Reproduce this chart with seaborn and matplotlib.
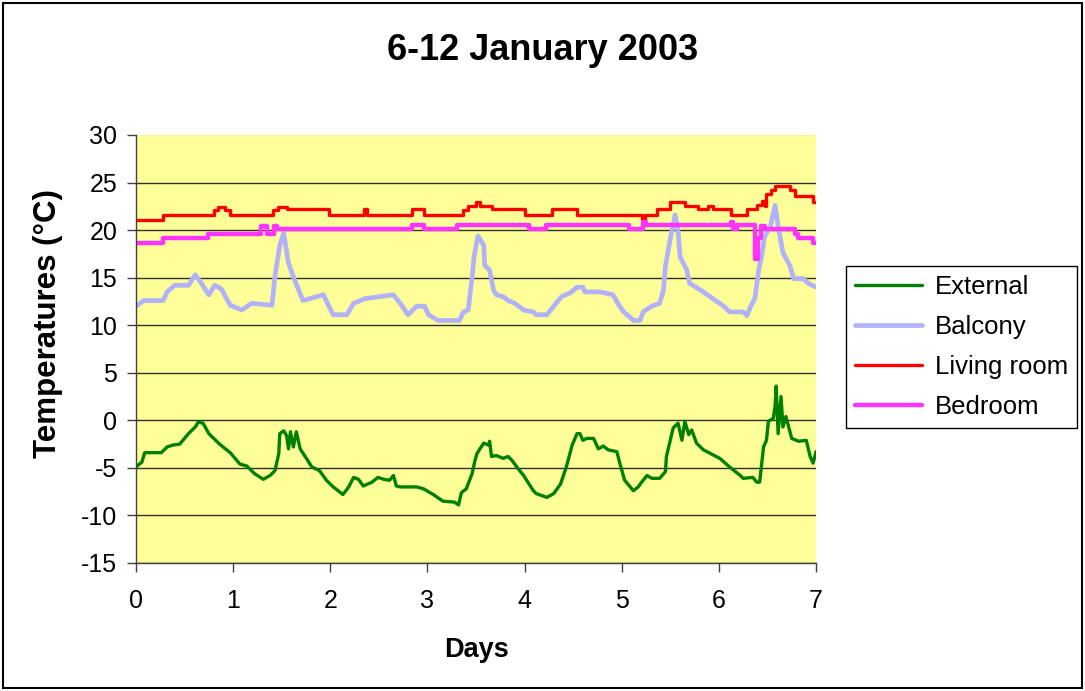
import matplotlib
matplotlib.use("Agg")
import matplotlib.pyplot as plt
import seaborn as sns
from matplotlib.patches import Rectangle

# readings: days since 6 Jan 2003, temperatures in degC
ext_days = [0, 0.06, 0.09, 0.26, 0.32, 0.38, 0.45, 0.54, 0.61, 0.64, 0.69, 0.75, 0.86, 0.97,
            1.07, 1.14, 1.22, 1.31, 1.38, 1.43, 1.47, 1.48, 1.52, 1.55, 1.57, 1.59, 1.62, 1.65,
            1.69, 1.76, 1.81, 1.89, 1.96, 2.03, 2.13, 2.19, 2.24, 2.29, 2.34, 2.43, 2.49, 2.55,
            2.61, 2.65, 2.68, 2.72, 2.89, 2.96, 3.06, 3.16, 3.28, 3.32, 3.35, 3.40, 3.46, 3.49,
            3.51, 3.54, 3.58, 3.63, 3.64, 3.66, 3.71, 3.78, 3.83, 3.87, 3.92, 3.99, 4.09, 4.12,
            4.23, 4.30, 4.37, 4.43, 4.49, 4.54, 4.57, 4.60, 4.64, 4.71, 4.76, 4.81, 4.86, 4.95,
            4.98, 5.03, 5.12, 5.17, 5.19, 5.26, 5.31, 5.39, 5.45, 5.46, 5.53, 5.58, 5.62, 5.65,
            5.69, 5.72, 5.77, 5.84, 6.01, 6.11, 6.22, 6.25, 6.35, 6.39, 6.42, 6.46, 6.49, 6.51,
            6.56, 6.58, 6.59, 6.61, 6.64, 6.66, 6.69, 6.75, 6.82, 6.90, 6.94, 6.97, 7.0]
ext_temp = [-4.9, -4.4, -3.4, -3.4, -2.8, -2.6, -2.5, -1.4, -0.7, -0.2, -0.3, -1.4, -2.5, -3.4,
            -4.6, -4.8, -5.6, -6.2, -5.8, -5.3, -3.5, -1.4, -1.1, -1.6, -3.0, -1.2, -2.8, -1.2,
            -3.0, -4.1, -4.9, -5.3, -6.3, -7.0, -7.8, -7.0, -6.0, -6.2, -6.9, -6.5, -6.0, -6.2,
            -6.3, -5.8, -6.9, -7.0, -7.0, -7.2, -7.8, -8.5, -8.6, -8.9, -7.6, -7.2, -5.6, -4.2,
            -3.5, -3.0, -2.4, -2.6, -2.2, -3.8, -3.7, -4.0, -3.8, -4.2, -4.9, -5.8, -7.4, -7.7,
            -8.1, -7.7, -6.7, -4.9, -2.6, -1.4, -1.4, -2.1, -1.9, -1.9, -3.0, -2.7, -3.1, -3.3,
            -4.5, -6.3, -7.4, -7.0, -6.7, -5.8, -6.1, -6.1, -5.4, -3.8, -0.8, -0.3, -2.1, -0.1,
            -1.5, -1.0, -2.4, -3.1, -4.0, -4.9, -5.8, -6.1, -6.0, -6.5, -6.5, -2.8, -2.1, -0.1,
            0.2, 1.6, 3.6, -1.4, 2.5, -0.7, 0.4, -1.9, -2.2, -2.1, -3.8, -4.5, -3.3]

bal_days = [0, 0.08, 0.28, 0.32, 0.40, 0.54, 0.61, 0.66, 0.75, 0.81, 0.88, 0.97, 1.09, 1.19,
            1.40, 1.43, 1.48, 1.52, 1.57, 1.62, 1.69, 1.72, 1.93, 1.98, 2.03, 2.17, 2.24, 2.36,
            2.65, 2.72, 2.80, 2.89, 2.97, 3.01, 3.11, 3.33, 3.37, 3.42, 3.46, 3.48, 3.52, 3.58,
            3.59, 3.64, 3.68, 3.71, 3.78, 3.83, 3.90, 3.99, 4.09, 4.12, 4.23, 4.30, 4.38, 4.47,
            4.54, 4.60, 4.62, 4.78, 4.91, 4.96, 5.02, 5.08, 5.12, 5.19, 5.22, 5.31, 5.39, 5.43,
            5.45, 5.50, 5.55, 5.58, 5.60, 5.67, 5.70, 5.81, 5.91, 6.05, 6.11, 6.25, 6.29, 6.32,
            6.37, 6.41, 6.44, 6.47, 6.53, 6.58, 6.61, 6.66, 6.73, 6.77, 6.87, 6.92, 7.0]
bal_temp = [12.0, 12.6, 12.6, 13.5, 14.2, 14.2, 15.3, 14.6, 13.2, 14.2, 13.8, 12.1, 11.6, 12.3,
            12.1, 15.1, 18.4, 19.7, 16.5, 15.1, 13.3, 12.6, 13.2, 12.1, 11.1, 11.1, 12.3, 12.8,
            13.2, 12.3, 11.1, 12.0, 12.0, 11.1, 10.5, 10.5, 11.4, 11.6, 15.1, 17.2, 19.4, 18.4,
            16.3, 15.8, 13.7, 13.2, 13.0, 12.6, 12.3, 11.6, 11.4, 11.1, 11.1, 12.0, 13.0, 13.4,
            14.0, 14.0, 13.5, 13.5, 13.2, 12.3, 11.4, 10.9, 10.5, 10.5, 11.4, 12.0, 12.3, 13.7,
            16.2, 19.1, 21.6, 20.0, 17.2, 15.8, 14.4, 13.7, 13.0, 12.0, 11.4, 11.4, 11.0, 11.8,
            12.8, 15.8, 17.2, 19.3, 20.4, 22.6, 20.4, 17.6, 16.3, 14.9, 14.9, 14.4, 14.0]

# indoor sensors report in steps: each value holds until the next day listed
liv_days = [0, 0.28, 0.80, 0.84, 0.92, 0.97, 1.41, 1.46, 1.55, 1.99, 2.35, 2.38, 2.84, 2.96,
            3.37, 3.42, 3.50, 3.54, 3.66, 4.00, 4.28, 4.54, 5.21, 5.24, 5.36, 5.50, 5.65, 5.79,
            5.89, 5.94, 6.13, 6.29, 6.39, 6.44, 6.47, 6.49, 6.54, 6.58, 6.73, 6.78, 6.97, 7.0]
liv_temp = [21.1, 21.6, 22.1, 22.45, 22.1, 21.6, 22.1, 22.45, 22.2, 21.6, 22.2, 21.6, 22.2, 21.6,
            22.1, 22.5, 23.0, 22.5, 22.2, 21.6, 22.2, 21.6, 21.2, 21.6, 22.2, 23.0, 22.5, 22.2,
            22.5, 22.2, 21.6, 22.2, 22.6, 23.1, 22.5, 23.8, 24.2, 24.6, 24.2, 23.6, 23.0, 23.0]

bed_days = [0, 0.28, 0.74, 1.29, 1.35, 1.42, 1.45, 2.84, 2.96, 3.30, 4.05, 4.22, 5.07, 5.22,
            5.25, 6.13, 6.15, 6.19, 6.37, 6.40, 6.43, 6.47, 6.78, 6.81, 6.97, 7.0]
bed_temp = [18.6, 19.2, 19.6, 20.4, 19.6, 20.4, 20.1, 20.5, 20.1, 20.5, 20.1, 20.5, 20.1, 20.9,
            20.5, 20.9, 20.1, 20.5, 17.0, 19.2, 20.4, 20.1, 19.6, 19.2, 18.6, 18.6]

x_ticks = [0, 1, 2, 3, 4, 5, 6, 7]
y_ticks = [-15, -10, -5, 0, 5, 10, 15, 20, 25, 30]

sns.set_theme(style="white")
plt.rcParams["font.family"] = ["Liberation Sans", "DejaVu Sans"]
plt.rcParams["axes.unicode_minus"] = False
plt.rcParams["text.color"] = "black"
plt.rcParams["axes.labelcolor"] = "black"

W, H = 1085, 691
fig = plt.figure(figsize=(W / 100, H / 100), dpi=100)
ax = fig.add_axes([136 / W, 1 - 563 / H, 680 / W, 428 / H])
ax.set_facecolor("#FFFF99")

sns.lineplot(x=ext_days, y=ext_temp, color="#008000", lw=2.4, label="External",
             estimator=None, sort=False, ax=ax)
sns.lineplot(x=bal_days, y=bal_temp, color="#B2B2FA", lw=3.4, label="Balcony",
             estimator=None, sort=False, ax=ax)
sns.lineplot(x=liv_days, y=liv_temp, color="#FF0000", lw=2.4, label="Living room",
             estimator=None, sort=False, drawstyle="steps-post", ax=ax)
sns.lineplot(x=bed_days, y=bed_temp, color="#FF33FF", lw=3.2, label="Bedroom",
             estimator=None, sort=False, drawstyle="steps-post", ax=ax)

handles, labels = ax.get_legend_handles_labels()
ax.get_legend().remove()

ax.set_xlim(0, 7)
ax.set_ylim(-15, 30)
ax.set_xticks(x_ticks)
ax.set_yticks(y_ticks)
ax.grid(axis="y", color="#303030", lw=1)
ax.get_ygridlines()[-1].set_color("#F2F2A0")
ax.set_axisbelow(True)

for side in ["top", "right"]:
    ax.spines[side].set_visible(False)
for side in ["left", "bottom"]:
    ax.spines[side].set_color("#404040")
    ax.spines[side].set_linewidth(1)

ax.tick_params(axis="both", direction="out", length=6.5, width=1, color="#404040",
               labelsize=18, labelcolor="black", left=True, bottom=True)
ax.tick_params(axis="y", pad=7)
ax.tick_params(axis="x", pad=12)

ax.set_xlabel("Days", fontsize=19.5, fontweight="bold")
ax.set_ylabel("Temperatures (°C)", fontsize=22.5, fontweight="bold")
ax.xaxis.set_label_coords(0.5, -0.172)
ax.yaxis.set_label_coords(-0.108, 0.56)

fig.text(0.5, 1 - 51 / H, "6-12 January 2003", ha="center", va="center",
         fontsize=26, fontweight="bold")

leg = fig.legend(handles, labels, loc="upper left", bbox_to_anchor=(846 / W, 1 - 266 / H),
                 fontsize=18.5, frameon=True, fancybox=False, edgecolor="black",
                 framealpha=1, handlelength=2.6, labelspacing=0.62, borderpad=0.35,
                 handletextpad=0.5, borderaxespad=0)
leg.get_frame().set_linewidth(1)

fig.patches.append(Rectangle((0.003, 0.004), 0.994, 0.992, transform=fig.transFigure,
                             fill=False, edgecolor="black", lw=1.5))

fig.savefig("out.png", dpi=100)
